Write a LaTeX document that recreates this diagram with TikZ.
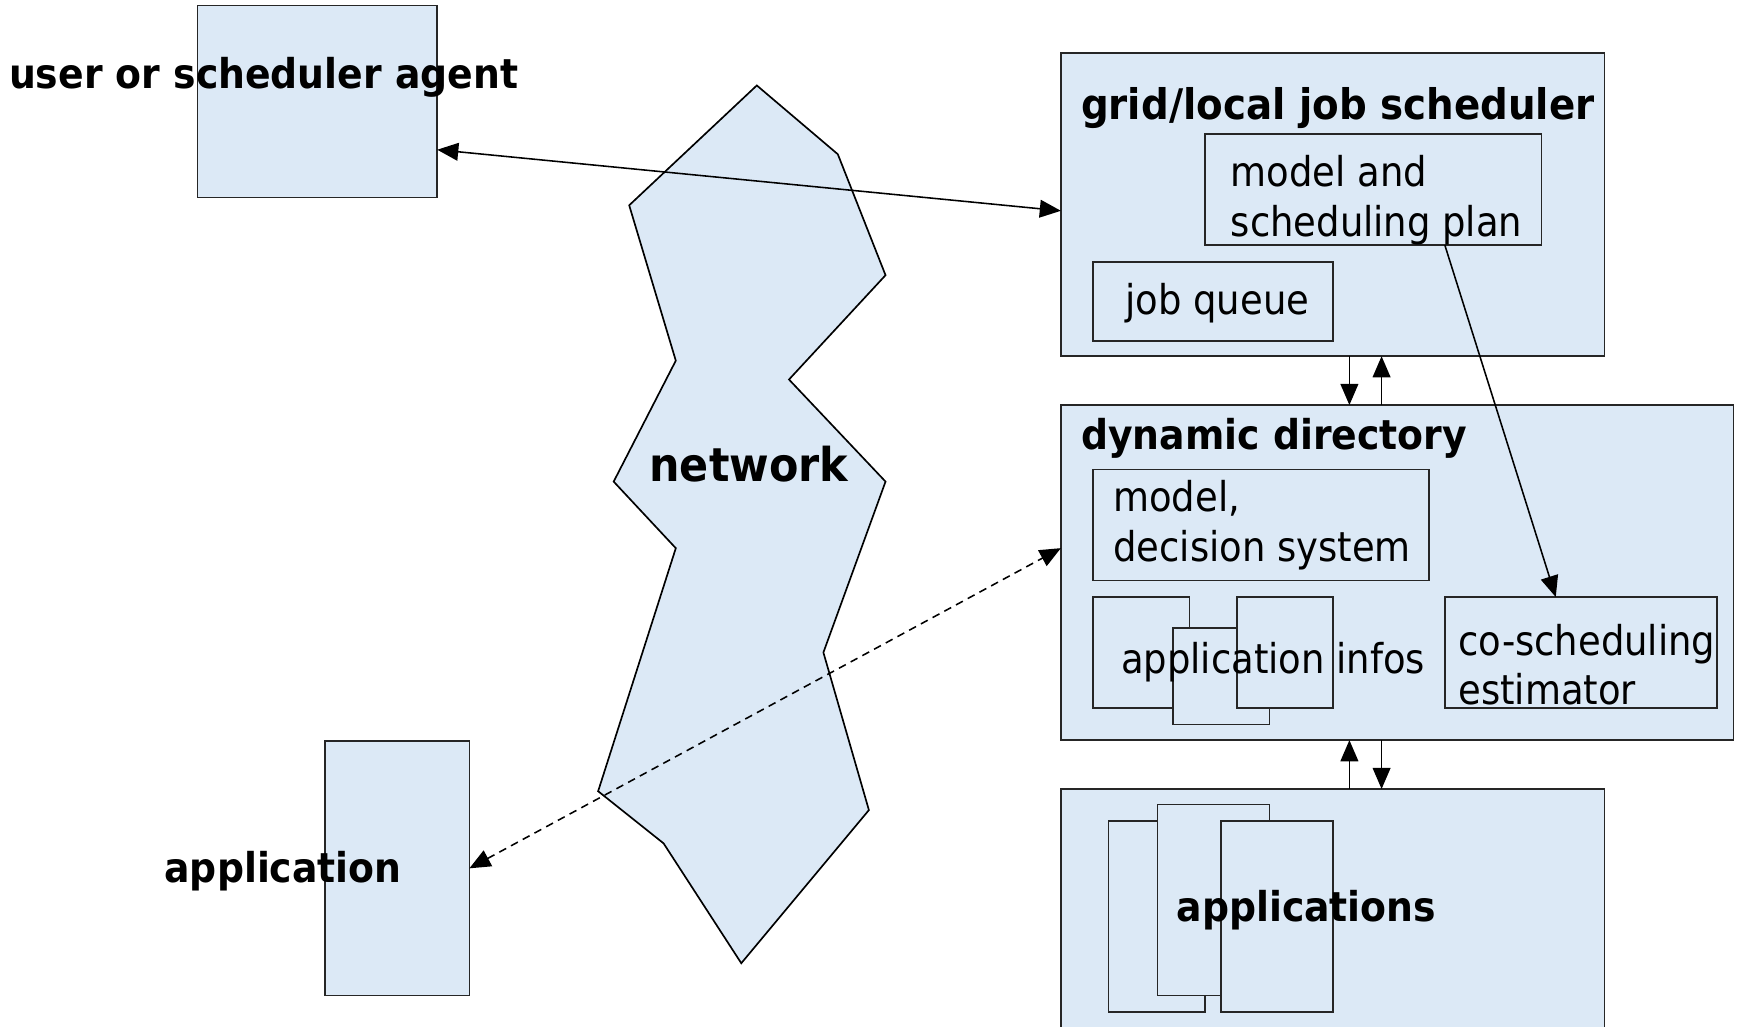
\documentclass[tikz,border=0pt]{standalone}
\usepackage{fontspec}
\setmainfont{DejaVu Sans}
\newfontfamily\condfont{DejaVu Sans Condensed}
\newfontfamily\headfont{DejaVu Sans}[FakeStretch=0.92]
\usetikzlibrary{arrows.meta,calc}
\definecolor{paleblue}{RGB}{220,233,246}
\begin{document}
\begin{tikzpicture}[x=1pt,y=-1pt,
  panel/.style={draw=black!85, line width=1.5pt, fill=paleblue,
    inner sep=0pt, outer sep=0pt, anchor=north west},
  title/.style={font=\headfont\fontsize{37}{42}\selectfont\bfseries,
    inner sep=0pt, anchor=base west},
  body/.style={font=\condfont\fontsize{37}{46}\selectfont,
    inner sep=0pt, anchor=base west},
  link/.style={line width=1.4pt, {Triangle[length=19pt,width=16pt]}-{Triangle[length=19pt,width=16pt]}},
  flow/.style={line width=1.4pt, -{Triangle[length=19pt,width=16pt]}},
  lossy/.style={line width=1.4pt, dash pattern=on 7pt off 5pt,
    {Triangle[length=19pt,width=16pt]}-{Triangle[length=19pt,width=16pt]}}]

\useasboundingbox (0,0) rectangle (1568,925);

% network cloud
\draw[line width=1.5pt, fill=paleblue, line join=miter]
  (682,77) -- (755,139) -- (798,248) -- (711,342) -- (798,434)
  -- (742,588) -- (783,730) -- (668,868) -- (598,760) -- (539,713)
  -- (609,494) -- (553,434) -- (609,325) -- (567,185) -- cycle;
\node[title, font=\headfont\fontsize{42}{46}\selectfont\bfseries] (netlbl) at (585,434) {network};

% user side
\node[panel, minimum width=216pt, minimum height=173pt] (user) at (178,5) {};
\node[title] (userlbl) at (8,80) {user or scheduler agent};

\node[panel, minimum width=130pt, minimum height=229pt] (app) at (293,668) {};
\node[title] (applbl) at (148,795) {application};

% grid/local job scheduler
\node[panel, minimum width=490pt, minimum height=273pt] (grid) at (956,48) {};
\node[title, font=\headfont\fontsize{38}{42}\selectfont\bfseries] (gridlbl) at (974,108) {grid/local job scheduler};
\node[panel, minimum width=303pt, minimum height=100pt] (plan) at (1086,121) {};
\node[body] (planA) at (1109,168) {model and};
\node[body] (planB) at (1109,213) {scheduling plan};
\node[panel, minimum width=216pt, minimum height=71pt] (queue) at (985,236) {};
\node[body] (queuelbl) at (1014,283) {job queue};

% dynamic directory
\node[panel, minimum width=606pt, minimum height=302pt] (dyn) at (956,365) {};
\node[title] (dynlbl) at (974,405) {dynamic directory};
\node[panel, minimum width=303pt, minimum height=100pt] (model) at (985,423) {};
\node[body] (modelA) at (1003,461) {model,};
\node[body] (modelB) at (1003,506) {decision system};
\node[panel, minimum width=87pt, minimum height=100pt] (infoA) at (985,538) {};
\node[panel, minimum width=87pt, minimum height=87pt] (infoB) at (1057,566) {};
\node[panel, minimum width=86pt, minimum height=100pt] (infoC) at (1115,538) {};
\node[body] (infolbl) at (1010,607) {application infos};
\node[panel, minimum width=245pt, minimum height=100pt] (cosched) at (1302,538) {};
\node[body] (coschedA) at (1314,591) {co-scheduling};
\node[body] (coschedB) at (1314,635) {estimator};

% applications
\node[panel, minimum width=490pt, minimum height=240pt] (apps) at (956,711) {};
\node[panel, minimum width=87pt, minimum height=172pt] (appsA) at (999,740) {};
\node[panel, minimum width=101pt, minimum height=172pt] (appsB) at (1043,725) {};
\node[panel, minimum width=101pt, minimum height=172pt] (appsC) at (1100,740) {};
\node[title] (appslbl) at (1060,830) {applications};

% connectors
\draw[link] ($(user.north east)!0.751!(user.south east)$)
  -- ($(grid.north west)!0.52!(grid.south west)$);
\draw[lossy] (app.east) -- ($(dyn.north west)!0.427!(dyn.south west)$);

\coordinate (colA) at (1216,0);
\coordinate (colB) at (1245,0);
\draw[flow] (grid.south -| colA) -- (dyn.north -| colA);
\draw[flow] (dyn.north -| colB) -- (grid.south -| colB);
\draw[flow] (apps.north -| colA) -- (dyn.south -| colA);
\draw[flow] (dyn.south -| colB) -- (apps.north -| colB);

\draw[flow] ($(plan.south west)!0.713!(plan.south east)$)
  -- ($(cosched.north west)!0.408!(cosched.north east)$);
\end{tikzpicture}
\end{document}
